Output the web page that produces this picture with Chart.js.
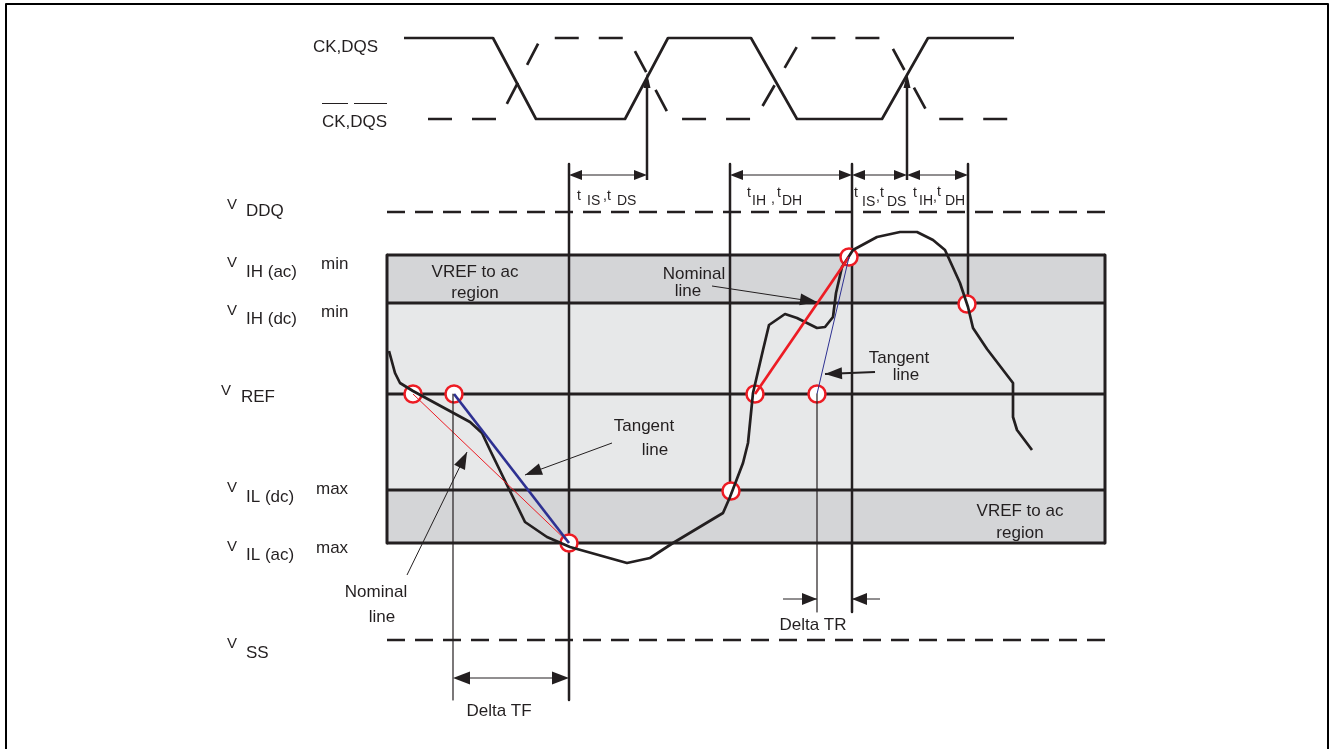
<!DOCTYPE html>
<html>
<head>
<meta charset="utf-8">
<script src="https://cdn.jsdelivr.net/npm/chart.js@4.4.1/dist/chart.umd.min.js"></script>
<style>
  body { margin: 0; background: #fff; }
  #wrap { width: 1330px; height: 749px; }
</style>
</head>
<body>
<div id="wrap"><canvas id="chart" width="1330" height="749"></canvas></div>
<script>
// Reloj CK,DQS (continuo) y CK#,DQS# (discontinuo)
const ckX  = [404, 493, 536, 625, 668, 751, 797, 882, 928, 1014];
const ckY  = [38, 38, 119, 119, 38, 38, 119, 119, 38, 38];
const ckbX = [428, 499, 541, 628, 671, 755, 802, 887, 931, 1020];
const ckbY = [119, 119, 38, 38, 119, 119, 38, 38, 119, 119];

// Niveles de tension
const levelNames  = ['DDQ', 'IH (ac)', 'IH (dc)', 'REF', 'IL (dc)', 'IL (ac)', 'SS'];
const levelSuffix = ['', 'min', 'min', '', 'max', 'max', ''];
const levelY      = [212, 255, 303, 394, 490, 543, 640];
const levelVBase  = [209, 267, 315, 395, 492, 551, 648];
const levelSubBase = [216, 277, 324, 402, 502, 560, 658];
const regionX = [387, 1105];

// Forma de onda de la senal
const waveX = [389, 395, 400, 413, 470, 482, 490, 525, 547, 570, 627, 650, 673, 723, 730, 743, 748, 753,
               763, 769, 785, 797, 817, 825, 833, 836, 842, 853, 877, 900, 917, 933, 945, 960, 968, 973,
               987, 1013, 1013, 1017, 1032];
const waveY = [351, 373, 383, 391, 422, 433, 450, 522, 537, 547, 563, 558, 543, 513, 497, 463, 443, 393,
               350, 325, 314, 318, 328, 327, 317, 293, 267, 250, 237, 232, 232, 240, 250, 283, 307, 328,
               349, 383, 417, 430, 450];

// Cruces marcados
const markX = [413, 454, 569, 731, 755, 817, 849, 967];
const markY = [394, 394, 543, 491, 394, 394, 257, 304];

// Lineas de tiempo (flancos)
const edgeX = [569, 730, 852, 968];
const edgeBottom = [700, 490, 612, 303];
const edgeTop = 164;
const clockEdgeX = [647, 907];
const thinX = [453, 817];
const thinBottom = [700, 612];

// Lineas tangente / nominal: [x1, y1, x2, y2]
const tangentLines = [[454, 394, 569, 543], [817, 394, 849, 257]];
const nominalLines = [[413, 394, 569, 543], [755, 394, 849, 257]];

// Cotas de tiempo
const dimY = 175;
const dimSpans = [[569, 647], [730, 852], [852, 907], [907, 968]];
const deltaTF = [453, 569, 678];
const deltaTR = [[783, 817], [880, 852], 599];

// Flechas indicadoras: [desde x, desde y, punta x, punta y]
const pointerArrows = [[712, 286, 817, 302], [612, 443, 525, 475], [875, 372, 825, 374], [407, 575, 467, 452]];

// Textos
const timingText = [
  ['t', 577, 200], ['IS', 587, 205], [',', 603, 200], ['t', 607, 200], ['DS', 617, 205],
  ['t', 747, 197], ['IH', 752, 205], [',', 771, 203], ['t', 777, 197], ['DH', 782, 205],
  ['t', 854, 197], ['IS', 862, 206], [',', 876, 201], ['t', 880, 197], ['DS', 887, 206],
  ['t', 913, 197], ['IH', 919, 205], [',', 933, 201], ['t', 937, 196], ['DH', 945, 205]
];
const centerText = [
  ['VREF to ac', 475, 277], ['region', 475, 298],
  ['VREF to ac', 1020, 516], ['region', 1020, 538],
  ['Nominal', 694, 279], ['line', 688, 296],
  ['Tangent', 644, 431], ['line', 655, 455],
  ['Tangent', 899, 363], ['line', 906, 380],
  ['Nominal', 376, 597], ['line', 382, 622],
  ['Delta TF', 499, 716], ['Delta TR', 813, 630]
];

const INK = '#231f20';
const RED = '#ed1c24';
const BLUE = '#2e3192';

function line(points, color, width, order, dash) {
  return {
    data: points.map(p => ({ x: p[0], y: p[1] })),
    showLine: true, borderColor: color, borderWidth: width,
    borderDash: dash || [], pointRadius: 0, fill: false, tension: 0,
    borderJoinStyle: 'round', order: order
  };
}
function band(y1, y2, color) {
  return {
    data: [[regionX[0], y1], [regionX[1], y1], [regionX[1], y2], [regionX[0], y2], [regionX[0], y1]].map(p => ({ x: p[0], y: p[1] })),
    showLine: true, borderWidth: 0, borderColor: 'rgba(0,0,0,0)', backgroundColor: color,
    fill: 'shape', pointRadius: 0, tension: 0, order: 100
  };
}

const datasets = [];
// Bandas
datasets.push(band(levelY[1], levelY[2], '#d4d5d7'));
datasets.push(band(levelY[2], levelY[4], '#e7e8e9'));
datasets.push(band(levelY[4], levelY[5], '#d4d5d7'));
// Lineas de la region
for (let i = 1; i <= 5; i++) datasets.push(line([[regionX[0], levelY[i]], [regionX[1], levelY[i]]], INK, 3, 90));
datasets.push(line([[regionX[0], levelY[1]], [regionX[0], levelY[5]]], INK, 3, 90));
datasets.push(line([[regionX[1], levelY[1]], [regionX[1], levelY[5]]], INK, 3, 90));
// VDDQ y VSS discontinuas
datasets.push(line([[regionX[0], levelY[0]], [regionX[1], levelY[0]]], INK, 2.5, 85, [18, 10]));
datasets.push(line([[regionX[0], levelY[6]], [regionX[1], levelY[6]]], INK, 2.5, 85, [18, 10]));
// Flancos
edgeX.forEach((x, i) => datasets.push(line([[x, edgeTop], [x, edgeBottom[i]]], INK, 2.5, 80)));
clockEdgeX.forEach(x => datasets.push(line([[x, 180], [x, 80]], INK, 2.5, 80)));
// Marcas
datasets.push({
  data: markX.map((x, i) => ({ x, y: markY[i] })), showLine: false,
  pointRadius: 8.5, pointBorderWidth: 2.5, pointBorderColor: RED, pointBackgroundColor: '#fff', order: 70
});
// Onda
datasets.push(line(waveX.map((x, i) => [x, waveY[i]]), INK, 2.7, 50));
// Tangentes y nominales
datasets.push(line([tangentLines[0].slice(0, 2), tangentLines[0].slice(2)], BLUE, 2.7, 45));
datasets.push(line([tangentLines[1].slice(0, 2), tangentLines[1].slice(2)], BLUE, 1, 45));
datasets.push(line([nominalLines[0].slice(0, 2), nominalLines[0].slice(2)], RED, 1, 46));
datasets.push(line([nominalLines[1].slice(0, 2), nominalLines[1].slice(2)], RED, 2.7, 46));
// Verticales finas
thinX.forEach((x, i) => datasets.push(line([[x, markY[i === 0 ? 1 : 5]], [x, thinBottom[i]]], INK, 1.2, 40)));
// Reloj
datasets.push(line(ckX.map((x, i) => [x, ckY[i]]), INK, 2.7, 30));
datasets.push(line(ckbX.map((x, i) => [x, ckbY[i]]), INK, 2.7, 30, [24, 20]));
// Cotas (trazos)
dimSpans.forEach(s => datasets.push(line([[s[0] + 8, dimY], [s[1] - 8, dimY]], INK, 1, 25)));
datasets.push(line([[deltaTF[0] + 10, deltaTF[2]], [deltaTF[1] - 10, deltaTF[2]]], INK, 1, 25));
[deltaTR[0], deltaTR[1]].forEach(a => datasets.push(line([[a[0], deltaTR[2]], [a[1], deltaTR[2]]], INK, 1, 25)));
pointerArrows.forEach((a, i) => datasets.push(line([[a[0], a[1]], [a[2], a[3]]], INK, i === 2 ? 2 : 1, 25)));
// Marco
datasets.push(line([[6, 760], [6, 4], [1328, 4], [1328, 760]], '#000', 2, 10));

function head(ctx, sx, sy, tx, ty, fx, fy, len, half) {
  const px = sx.getPixelForValue(tx), py = sy.getPixelForValue(ty);
  const qx = sx.getPixelForValue(fx), qy = sy.getPixelForValue(fy);
  const d = Math.hypot(px - qx, py - qy);
  const ux = (px - qx) / d, uy = (py - qy) / d;
  const bx = px - ux * len, by = py - uy * len;
  ctx.beginPath();
  ctx.moveTo(px, py);
  ctx.lineTo(bx - uy * half, by + ux * half);
  ctx.lineTo(bx + uy * half, by - ux * half);
  ctx.closePath();
  ctx.fill();
}

const overlay = {
  id: 'overlay',
  afterDatasetsDraw(chart) {
    const { ctx, scales: { x, y } } = chart;
    ctx.save();
    ctx.fillStyle = INK;
    dimSpans.forEach(s => {
      head(ctx, x, y, s[0], dimY, s[1], dimY, 13, 5);
      head(ctx, x, y, s[1], dimY, s[0], dimY, 13, 5);
    });
    head(ctx, x, y, deltaTF[0], deltaTF[2], deltaTF[1], deltaTF[2], 17, 6.5);
    head(ctx, x, y, deltaTF[1], deltaTF[2], deltaTF[0], deltaTF[2], 17, 6.5);
    [deltaTR[0], deltaTR[1]].forEach(a => head(ctx, x, y, a[1], deltaTR[2], a[0], deltaTR[2], 15, 6));
    pointerArrows.forEach(a => head(ctx, x, y, a[2], a[3], a[0], a[1], 17, 6));
    clockEdgeX.forEach(cx => head(ctx, x, y, cx, 73, cx, 180, 15, 3.5));
    ctx.restore();
  },
  afterDraw(chart) {
    const { ctx, scales: { x, y } } = chart;
    ctx.save();
    ctx.fillStyle = INK;
    ctx.textBaseline = 'alphabetic';
    const put = (t, xv, yv, size, align) => {
      ctx.font = size + 'px "Liberation Sans", Arial, sans-serif';
      ctx.textAlign = align || 'left';
      ctx.fillText(t, x.getPixelForValue(xv), y.getPixelForValue(yv));
    };
    put('CK,DQS', 313, 52, 17);
    put('CK,DQS', 322, 127, 17);
    ctx.fillRect(x.getPixelForValue(322), y.getPixelForValue(103), 26, 1);
    ctx.fillRect(x.getPixelForValue(354), y.getPixelForValue(103), 33, 1);
    levelNames.forEach((n, i) => {
      const vx = i === 3 ? 221 : 227;
      put('V', vx, levelVBase[i], 15);
      put(n, i === 3 ? 241 : 246, levelSubBase[i], 17);
      if (levelSuffix[i]) put(levelSuffix[i], i < 3 ? 321 : 316, levelVBase[i] + 2, 17);
    });
    timingText.forEach(t => put(t[0], t[1], t[2], 14));
    centerText.forEach(t => put(t[0], t[1], t[2], 17, 'center'));
    ctx.restore();
  }
};

new Chart(document.getElementById('chart'), {
  type: 'scatter',
  data: { datasets },
  options: {
    responsive: false,
    animation: false,
    layout: { padding: 0, autoPadding: false },
    plugins: { legend: { display: false }, tooltip: { enabled: false } },
    scales: {
      x: { type: 'linear', min: 0, max: 1330, display: false },
      y: { type: 'linear', min: 0, max: 749, reverse: true, display: false }
    }
  },
  plugins: [overlay]
});
</script>
</body>
</html>
